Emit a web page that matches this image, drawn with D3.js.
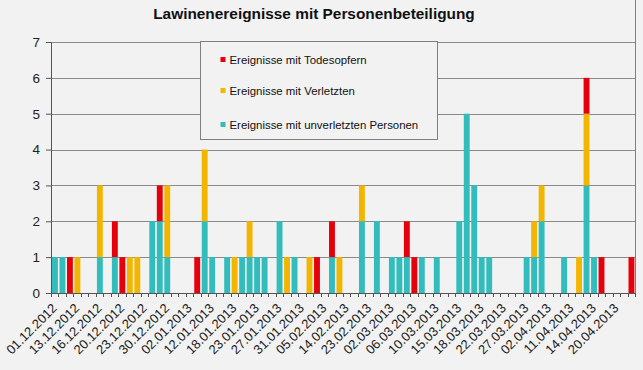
<!DOCTYPE html>
<html>
<head>
<meta charset="utf-8">
<script src="https://cdnjs.cloudflare.com/ajax/libs/d3/7.8.5/d3.min.js"></script>
<style>
  html, body { margin: 0; padding: 0; background: #f2f2f2; }
  svg { display: block; font-family: "Liberation Sans", Arial, sans-serif; }
</style>
</head>
<body>
<script>
// Ereignis-Tage (jede dritte Kategorie wird beschriftet)
const dates = [
  "01.12.2012","06.12.2012","09.12.2012","13.12.2012","14.12.2012","15.12.2012",
  "16.12.2012","17.12.2012","18.12.2012","20.12.2012","21.12.2012","22.12.2012",
  "23.12.2012","26.12.2012","28.12.2012","30.12.2012","31.12.2012","01.01.2013",
  "02.01.2013","04.01.2013","08.01.2013","12.01.2013","14.01.2013","16.01.2013",
  "18.01.2013","20.01.2013","21.01.2013","23.01.2013","25.01.2013","26.01.2013",
  "27.01.2013","29.01.2013","30.01.2013","31.01.2013","02.02.2013","03.02.2013",
  "05.02.2013","08.02.2013","11.02.2013","14.02.2013","17.02.2013","20.02.2013",
  "23.02.2013","25.02.2013","27.02.2013","02.03.2013","04.03.2013","05.03.2013",
  "06.03.2013","08.03.2013","09.03.2013","10.03.2013","12.03.2013","14.03.2013",
  "15.03.2013","16.03.2013","17.03.2013","18.03.2013","19.03.2013","20.03.2013",
  "22.03.2013","24.03.2013","25.03.2013","27.03.2013","29.03.2013","31.03.2013",
  "02.04.2013","05.04.2013","08.04.2013","11.04.2013","12.04.2013","13.04.2013",
  "14.04.2013","16.04.2013","18.04.2013","20.04.2013","23.04.2013","26.04.2013"
];

const unverletzt = [
  1,1,0,0,0,0, 1,0,1,0,0,0, 0,2,2,1,0,0, 0,0,2,1,0,1, 0,1,1,1,1,0,
  2,0,1,0,0,0, 0,1,0,0,0,2, 0,2,0,1,1,1, 0,1,0,1,0,0, 2,5,3,1,1,0,
  0,0,0,1,1,2, 0,0,1,0,0,3, 1,0,0,0,0,0
];
const verletzt = [
  0,0,0,1,0,0, 2,0,0,0,1,1, 0,0,0,2,0,0, 0,0,2,0,0,0, 1,0,1,0,0,0,
  0,1,0,0,1,0, 0,0,1,0,0,1, 0,0,0,0,0,0, 0,0,0,0,0,0, 0,0,0,0,0,0,
  0,0,0,0,1,1, 0,0,0,0,1,2, 0,0,0,0,0,0
];
const todesopfer = [
  0,0,1,0,0,0, 0,0,1,1,0,0, 0,0,1,0,0,0, 0,1,0,0,0,0, 0,0,0,0,0,0,
  0,0,0,0,0,1, 0,1,0,0,0,0, 0,0,0,0,0,1, 1,0,0,0,0,0, 0,0,0,0,0,0,
  0,0,0,0,0,0, 0,0,0,0,0,1, 0,1,0,0,0,1
];

const seriesNames = ["Ereignisse mit Todesopfern", "Ereignisse mit Verletzten", "Ereignisse mit unverletzten Personen"];
const seriesColors = ["#e6000c", "#f2b500", "#33bcbc"];
const yTicks = [0, 1, 2, 3, 4, 5, 6, 7];

const width = 643, height = 370;
const margin = {top: 42, right: 8, bottom: 77, left: 51};
const w = width - margin.left - margin.right;
const h = height - margin.top - margin.bottom;

const svg = d3.select("body").append("svg")
    .attr("width", width)
    .attr("height", height);

svg.append("rect").attr("width", width).attr("height", height).attr("fill", "#f2f2f2");

// title
svg.append("text")
    .attr("x", 314)
    .attr("y", 19)
    .attr("text-anchor", "middle")
    .attr("font-weight", "bold")
    .attr("font-size", "15.4px")
    .attr("fill", "#111")
    .text("Lawinenereignisse mit Personenbeteiligung");

// right frame line
svg.append("line")
    .attr("x1", width - margin.right + 0.5).attr("x2", width - margin.right + 0.5)
    .attr("y1", 0).attr("y2", margin.top + h)
    .attr("stroke", "#7f7f7f");

const g = svg.append("g").attr("transform", "translate(" + margin.left + "," + margin.top + ")");

const x = d3.scaleBand().domain(dates).range([0, w]).padding(0);
const y = d3.scaleLinear().domain([0, 7]).range([h, 0]);

// gridlines
g.selectAll(".grid")
    .data(yTicks.slice(1))
  .enter().append("line")
    .attr("class", "grid")
    .attr("x1", 0).attr("x2", w)
    .attr("y1", d => Math.round(y(d)) + 0.5).attr("y2", d => Math.round(y(d)) + 0.5)
    .attr("stroke", "#8a8a8a");

// stacked data
const table = dates.map((d, i) => ({
    date: d,
    unverletzt: unverletzt[i],
    verletzt: verletzt[i],
    tod: todesopfer[i]
}));
const keys = ["unverletzt", "verletzt", "tod"];
const colorByKey = {unverletzt: seriesColors[2], verletzt: seriesColors[1], tod: seriesColors[0]};
const stacked = d3.stack().keys(keys)(table);

const inset = 1, gap = 1.6;
g.selectAll(".layer")
    .data(stacked)
  .enter().append("g")
    .attr("class", "layer")
    .attr("fill", d => colorByKey[d.key])
  .selectAll("rect")
    .data(d => d.filter(p => p[1] > p[0]))
  .enter().append("rect")
    .attr("x", d => x(d.data.date) + inset)
    .attr("width", x.bandwidth() - gap)
    .attr("y", d => y(d[1]))
    .attr("height", d => y(d[0]) - y(d[1]));

// y axis
const yAxis = g.append("g")
    .call(d3.axisLeft(y).tickValues(yTicks).tickSize(5).tickPadding(6).tickFormat(d3.format("d")));
yAxis.select(".domain").attr("stroke", "#555");
yAxis.selectAll(".tick line").attr("stroke", "#555");
yAxis.selectAll("text").attr("font-size", "13.5px").attr("fill", "#222").attr("font-family", "Liberation Sans, Arial, sans-serif");

// x axis line
g.append("line")
    .attr("x1", 0).attr("x2", w)
    .attr("y1", h + 0.5).attr("y2", h + 0.5)
    .attr("stroke", "#555");

// x ticks at category boundaries
const bounds = dates.map(d => x(d)).concat([x(dates[dates.length - 1]) + x.bandwidth()]);
g.selectAll(".xtick")
    .data(bounds)
  .enter().append("line")
    .attr("class", "xtick")
    .attr("x1", d => Math.round(d) + 0.5).attr("x2", d => Math.round(d) + 0.5)
    .attr("y1", h).attr("y2", h + 4)
    .attr("stroke", "#555");

// x labels, every third category
g.selectAll(".xlabel")
    .data(dates.filter((d, i) => i % 3 === 0))
  .enter().append("text")
    .attr("class", "xlabel")
    .attr("transform", d => "translate(" + (x(d) + x.bandwidth() / 2 + 3) + "," + (h + 16) + ") rotate(-45)")
    .attr("text-anchor", "end")
    .attr("font-size", "13px")
    .attr("fill", "#222")
    .text(d => d);

// legend
const legend = svg.append("g").attr("transform", "translate(200.5,41.5)");
legend.append("rect")
    .attr("width", 237).attr("height", 98)
    .attr("fill", "#f2f2f2")
    .attr("stroke", "#7f7f7f");
const items = legend.selectAll(".item")
    .data(seriesNames)
  .enter().append("g")
    .attr("class", "item")
    .attr("transform", (d, i) => "translate(20," + [18, 49, 83][i] + ")");
items.append("rect")
    .attr("x", 0).attr("y", -2.5)
    .attr("width", 5).attr("height", 5)
    .attr("fill", (d, i) => seriesColors[i]);
items.append("text")
    .attr("x", 9)
    .attr("y", 4)
    .attr("font-size", "11.4px")
    .attr("fill", "#111")
    .text(d => d);
</script>
</body>
</html>
